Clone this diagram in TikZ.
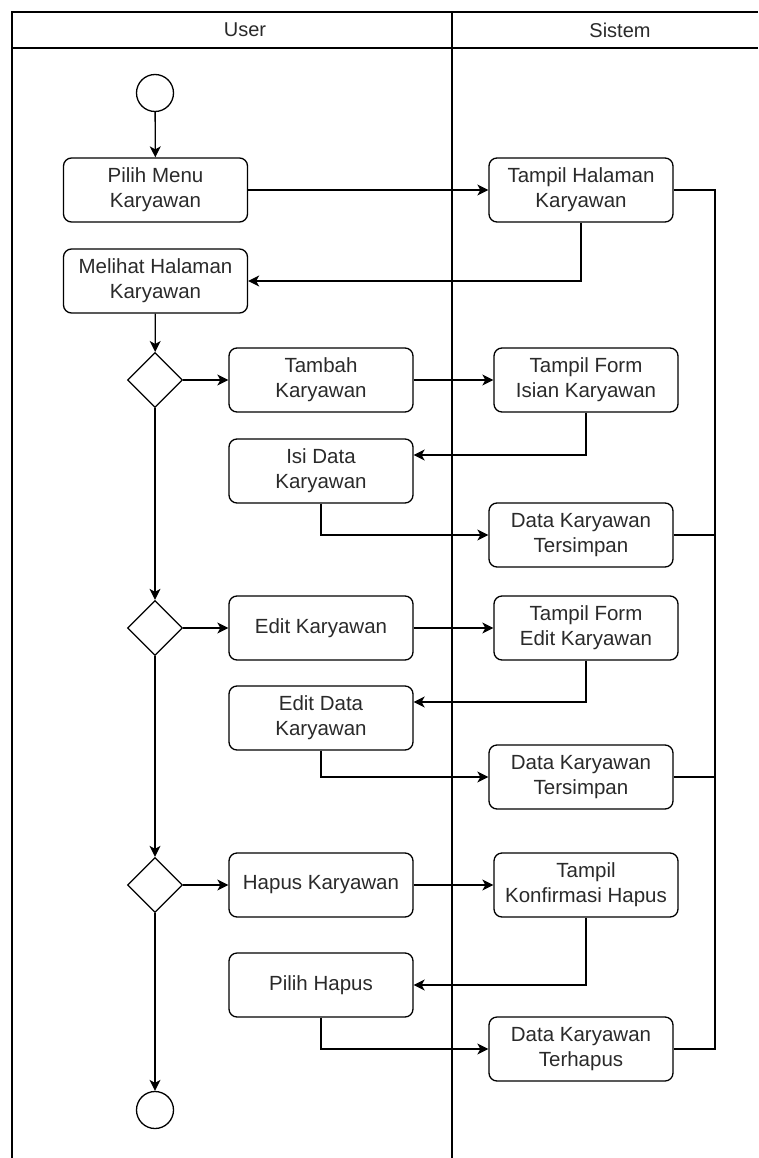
\documentclass[tikz,border=0pt]{standalone}
\usepackage{fontspec}
\setmainfont{Liberation Sans}
\usetikzlibrary{shapes.geometric,arrows.meta,calc}
\definecolor{txt}{HTML}{2A2A2A}
\newcommand\boxfont{\fontsize{20.5}{25}\selectfont}
\newcommand\headfont{\fontsize{20}{24}\selectfont}
\tikzset{
  act/.style={draw, rounded corners=8pt, minimum width=184pt, minimum height=64pt,
              align=center, font=\boxfont, text=txt, line width=1.3pt, inner sep=2pt},
  dec/.style={draw, diamond, minimum width=55pt, minimum height=55pt, inner sep=0pt, line width=1.3pt},
  term/.style={draw, circle, minimum size=37pt, inner sep=0pt, line width=1.3pt},
  flow/.style={-{Stealth[length=11pt,width=11pt,inset=3pt]}, line width=1.3pt},
  plain/.style={line width=1.3pt},
  lane/.style={line width=1.5pt},
  head/.style={font=\headfont, text=txt}
}
\begin{document}
\begin{tikzpicture}[x=1pt,y=-1pt]
\useasboundingbox (0,0) rectangle (758,1158);
% swimlanes
\draw[lane] (12,1158) -- (12,12) -- (758,12);
\draw[lane] (12,48) -- (758,48);
\draw[lane] (452,12) -- (452,1158);
\node[head] (huser) at (245,30) {User};
\node[head] (hsis) at (620,30) {Sistem};
% nodes
\node[term] (start) at (155,93) {};
\node[act] (pilih) at (155.5,190) {Pilih Menu\\Karyawan};
\node[act] (tampilhal) at (581,190) {Tampil Halaman\\Karyawan};
\node[act] (melihat) at (155.5,281) {Melihat Halaman\\Karyawan};
\node[dec] (d1) at (155,380) {};
\node[act] (tambah) at (321,380) {Tambah\\Karyawan};
\node[act] (formisian) at (586,380) {Tampil Form\\Isian Karyawan};
\node[act] (isi) at (321,471) {Isi Data\\Karyawan};
\node[act] (simpan1) at (581,535) {Data Karyawan\\Tersimpan};
\node[dec] (d2) at (155,628) {};
\node[act] (edit) at (321,628) {Edit Karyawan};
\node[act] (formedit) at (586,628) {Tampil Form\\Edit Karyawan};
\node[act] (editdata) at (321,718) {Edit Data\\Karyawan};
\node[act] (simpan2) at (581,777) {Data Karyawan\\Tersimpan};
\node[dec] (d3) at (155,885) {};
\node[act] (hapus) at (321,885) {Hapus Karyawan};
\node[act] (konfirm) at (586,885) {Tampil\\Konfirmasi Hapus};
\node[act] (pilihhapus) at (321,985) {Pilih Hapus};
\node[act] (terhapus) at (581,1049) {Data Karyawan\\Terhapus};
\node[term] (end) at (155,1110) {};
\coordinate (rx) at (715,0);
% connectors
\draw[flow] (start) -- (pilih);
\draw[flow] (pilih) -- (tampilhal);
\draw[flow] (tampilhal.south) |- (melihat.east);
\draw[flow] (melihat) -- (d1);
\draw[flow] (d1) -- (tambah);
\draw[flow] (tambah) -- (formisian);
\draw[flow] (formisian.south) |- ([yshift=16pt]isi.east);
\draw[flow] (isi.south) |- (simpan1.west);
\draw[flow] (d1) -- (d2);
\draw[flow] (d2) -- (edit);
\draw[flow] (edit) -- (formedit);
\draw[flow] (formedit.south) |- ([yshift=16pt]editdata.east);
\draw[flow] (editdata.south) |- (simpan2.west);
\draw[flow] (d2) -- (d3);
\draw[flow] (d3) -- (hapus);
\draw[flow] (hapus) -- (konfirm);
\draw[flow] (konfirm.south) |- (pilihhapus.east);
\draw[flow] (pilihhapus.south) |- (terhapus.west);
\draw[flow] (d3) -- (end);
% return line on the right
\draw[plain] (tampilhal.east) -- (tampilhal.east -| rx) -- (terhapus.east -| rx) -- (terhapus.east);
\draw[plain] (simpan1.east) -- (simpan1.east -| rx);
\draw[plain] (simpan2.east) -- (simpan2.east -| rx);
\end{tikzpicture}
\end{document}
